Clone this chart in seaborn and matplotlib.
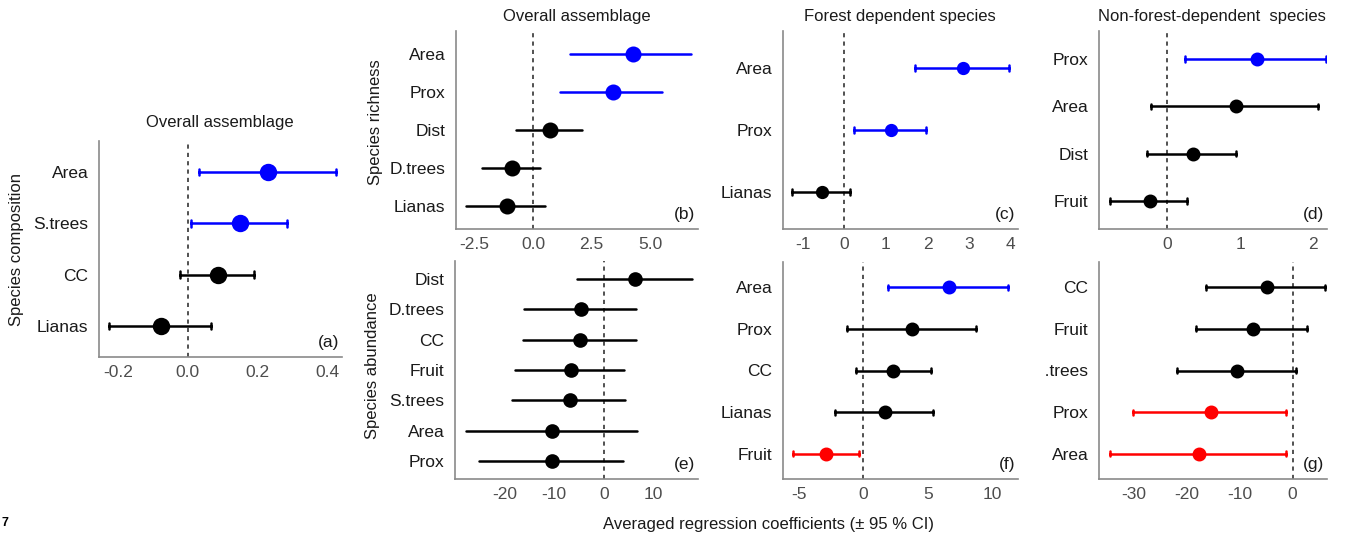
import numpy as np
import pandas as pd
import matplotlib
matplotlib.use("Agg")
import matplotlib.pyplot as plt
from matplotlib.transforms import Bbox, TransformedBbox
import seaborn as sns

# ---------------- data ----------------
a_cats = ["Area", "S.trees", "CC", "Lianas"]
a_est = [0.231, 0.149, 0.086, -0.075]
a_lo = [0.032, 0.010, -0.022, -0.225]
a_hi = [0.426, 0.285, 0.190, 0.068]
a_sig = ["pos", "pos", "ns", "ns"]

b_cats = ["Area", "Prox", "Dist", "D.trees", "Lianas"]
b_est = [4.26, 3.40, 0.72, -0.90, -1.10]
b_lo = [1.57, 1.15, -0.72, -2.17, -2.89]
b_hi = [6.77, 5.49, 2.08, 0.30, 0.51]
b_sig = ["pos", "pos", "ns", "ns", "ns"]

c_cats = ["Area", "Prox", "Lianas"]
c_est = [2.85, 1.13, -0.53]
c_lo = [1.70, 0.24, -1.25]
c_hi = [3.96, 1.97, 0.14]
c_sig = ["pos", "pos", "ns"]

d_cats = ["Prox", "Area", "Dist", "Fruit"]
d_est = [1.23, 0.94, 0.35, -0.23]
d_lo = [0.25, -0.22, -0.28, -0.78]
d_hi = [2.17, 2.06, 0.95, 0.27]
d_sig = ["pos", "ns", "ns", "ns"]

e_cats = ["Dist", "D.trees", "CC", "Fruit", "S.trees", "Area", "Prox"]
e_est = [6.2, -4.6, -4.8, -6.6, -6.9, -10.5, -10.5]
e_lo = [-5.4, -16.0, -16.3, -17.8, -18.4, -27.7, -25.1]
e_hi = [17.6, 6.4, 6.5, 4.1, 4.3, 6.6, 3.9]
e_sig = ["ns"] * 7

f_cats = ["Area", "Prox", "CC", "Lianas", "Fruit"]
f_est = [6.6, 3.75, 2.3, 1.7, -2.85]
f_lo = [1.9, -1.25, -0.6, -2.15, -5.45]
f_hi = [11.2, 8.7, 5.2, 5.4, -0.35]
f_sig = ["pos", "ns", "ns", "ns", "neg"]

g_cats = ["CC", "Fruit", "S.trees", "Prox", "Area"]
g_est = [-4.9, -7.5, -10.6, -15.5, -17.7]
g_lo = [-16.4, -18.3, -21.9, -30.2, -34.6]
g_hi = [6.2, 2.8, 0.6, -1.2, -1.2]
g_sig = ["ns", "ns", "ns", "neg", "neg"]

titles = ["Overall assemblage", "Overall assemblage", "Forest dependent species",
          "Non-forest-dependent  species"]
ylabels = ["Species composition", "Species richness", "Species abundance"]
xlabel = "Averaged regression coefficients (\u00b1 95 % CI)"
tags = ["(a)", "(b)", "(c)", "(d)", "(e)", "(f)", "(g)"]

a_ticks = [-0.2, 0.0, 0.2, 0.4]
a_ticklabels = ["-0.2", "0.0", "0.2", "0.4"]
b_ticks = [-2.5, 0.0, 2.5, 5.0]
b_ticklabels = ["-2.5", "0.0", "2.5", "5.0"]
c_ticks = [-1, 0, 1, 2, 3, 4]
c_ticklabels = ["-1", "0", "1", "2", "3", "4"]
d_ticks = [0, 1, 2]
d_ticklabels = ["0", "1", "2"]
e_ticks = [-20, -10, 0, 10]
e_ticklabels = ["-20", "-10", "0", "10"]
f_ticks = [-5, 0, 5, 10]
f_ticklabels = ["-5", "0", "5", "10"]
g_ticks = [-30, -20, -10, 0]
g_ticklabels = ["-30", "-20", "-10", "0"]

# ---------------- style ----------------
sns.set_theme(style="white")
plt.rcParams["font.family"] = ["Liberation Sans", "DejaVu Sans"]
plt.rcParams["axes.unicode_minus"] = False

palette = {"pos": "#0000FF", "ns": "#000000", "neg": "#FF0000"}
AX_COL = "#8a8a8a"

W, H = 1351, 544
fig = plt.figure(figsize=(W / 100, H / 100), dpi=100)


def box(l, t, r, b):
    return [l / W, 1 - b / H, (r - l) / W, (b - t) / H]


panels = [
    # cats, est, lo, hi, sig, rect, xlim, ticks, ticklabels, msize, capsize
    (a_cats, a_est, a_lo, a_hi, a_sig, (99, 141, 342, 357), (-0.254, 0.443), a_ticks, a_ticklabels, 10.5, 0.13),
    (b_cats, b_est, b_lo, b_hi, b_sig, (456, 31, 698, 229), (-3.3, 7.05), b_ticks, b_ticklabels, 9.5, 0),
    (c_cats, c_est, c_lo, c_hi, c_sig, (783, 31, 1018, 229), (-1.47, 4.17), c_ticks, c_ticklabels, 7.5, 0.1),
    (d_cats, d_est, d_lo, d_hi, d_sig, (1099, 31, 1327, 229), (-0.93, 2.19), d_ticks, d_ticklabels, 8, 0.12),
    (e_cats, e_est, e_lo, e_hi, e_sig, (455, 261, 698, 479), (-29.9, 18.9), e_ticks, e_ticklabels, 8.5, 0),
    (f_cats, f_est, f_lo, f_hi, f_sig, (783, 262, 1018, 479), (-6.2, 11.95), f_ticks, f_ticklabels, 8, 0.12),
    (g_cats, g_est, g_lo, g_hi, g_sig, (1099, 262, 1327, 479), (-36.6, 6.5), g_ticks, g_ticklabels, 8, 0.12),
]

axes = []
for i, (cats, est, lo, hi, sig, rect, xlim, ticks, tlabels, ms, cap) in enumerate(panels):
    ax = fig.add_axes(box(*rect))
    rows = []
    for c, e_, l_, h_, s_ in zip(cats, est, lo, hi, sig):
        for v in (l_, e_, h_):
            rows.append({"term": c, "coef": v, "sig": s_})
    df = pd.DataFrame(rows)
    hue_order = [s for s in ["pos", "ns", "neg"] if s in sig]
    sns.pointplot(data=df, x="coef", y="term", hue="sig", order=cats, hue_order=hue_order,
                  palette=palette, estimator="median", errorbar=("pi", 100),
                  linestyle="none", markersize=ms, capsize=cap, dodge=False,
                  err_kws={"linewidth": 1.8}, legend=False, ax=ax)
    ax.axvline(0, color="#333333", linestyle=(0, (2.5, 2.5)), linewidth=1.2, zorder=0)
    n = len(cats)
    ax.set_ylim(n - 1 + 0.6, -0.6)
    ax.set_xlim(*xlim)
    ax.set_xticks(ticks)
    ax.set_xticklabels(tlabels)
    ax.set_xlabel("")
    ax.set_ylabel("")
    for sp in ["top", "right"]:
        ax.spines[sp].set_visible(False)
    for sp in ["left", "bottom"]:
        ax.spines[sp].set_color(AX_COL)
        ax.spines[sp].set_linewidth(1.2)
    ax.tick_params(axis="both", length=3, width=1.1, color=AX_COL, labelsize=12.5)
    ax.tick_params(axis="x", labelcolor="#4d4d4d", pad=3)
    ax.tick_params(axis="y", labelcolor="#1a1a1a", pad=4.5)
    ax.grid(False)
    ax.text(1, 0, tags[i], transform=ax.transAxes, ha="right", va="bottom",
            fontsize=12.5, color="#1a1a1a")
    axes.append(ax)

# shift tag labels slightly inward
for ax in axes:
    t = ax.texts[-1]
    bb = ax.get_position()
    t.set_position((1 - 3 / (bb.width * W), 7 / (bb.height * H)))

# titles
title_pos = [(220, 123), (577, 17), (900, 17), (1212, 17)]
for t, (x, y) in zip(titles, title_pos):
    fig.text(x / W, 1 - y / H, t, ha="center", va="center", fontsize=12, color="#1a1a1a")

# y labels
ylab_pos = [(17, 250), (375, 122), (373, 366)]
for t, (x, y) in zip(ylabels, ylab_pos):
    fig.text(x / W, 1 - y / H, t, ha="center", va="center", rotation=90, fontsize=12,
             color="#1a1a1a")

fig.text(769 / W, 1 - 525 / H, xlabel, ha="center", va="center", fontsize=12, color="#1a1a1a")

# figure number fragment at left margin
fig.text(1 / W, 1 - 523 / H, "7", ha="left", va="center", fontsize=9, fontweight="bold",
         color="black")

# clip the left part of the (g) tick labels (cropped panel edge)
clip = TransformedBbox(Bbox.from_extents(1046 / W, 0, 1, 1), fig.transFigure)
for lab in axes[6].get_yticklabels():
    lab.set_clip_box(clip)
    lab.set_clip_on(True)

fig.savefig("out.png", dpi=100)
